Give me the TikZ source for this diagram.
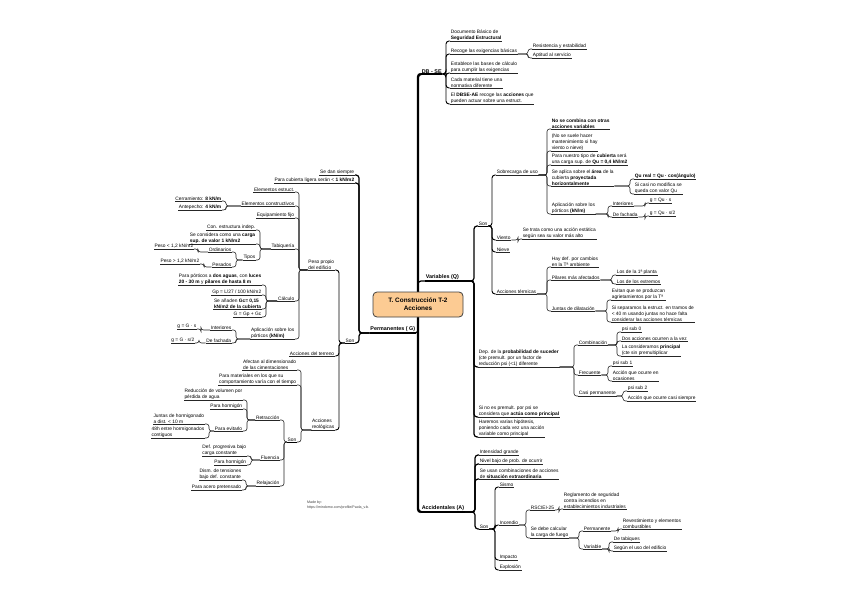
\documentclass[tikz,border=0pt]{standalone}
\usepackage{fontspec}
\setmainfont{Liberation Sans}
\definecolor{ctrfill}{HTML}{FCCB93}
\newcommand\lvone{\fontsize{5.4}{6.5}\selectfont\bfseries}
\newcommand\MRN[5][ul]{\node[rn] (#2) at (#3,#4) {#5}; \draw[#1] (#2.south west) -- (#2.south east);}
\newcommand\MLN[5][ul]{\node[ln] (#2) at (#3,#4) {#5}; \draw[#1] (#2.south east) -- (#2.south west);}
\newcommand\MRC[3][cn]{\draw[#1] (#2.south east) -| ([xshift=-4pt]#3.south west) -- (#3.south west);}
\newcommand\MLC[3][cn]{\draw[#1] (#2.south west) -| ([xshift=4pt]#3.south east) -- (#3.south east);}
\begin{document}
\begin{tikzpicture}[x=1pt,y=-1pt,
 every node/.style={font=\fontsize{4.85}{6}\selectfont, inner xsep=0.6pt, inner ysep=0.7pt, align=left, text=black},
 rn/.style={anchor=south west},
 ln/.style={anchor=south east},
 ul/.style={draw=black!85, line width=0.6pt},
 ulb/.style={draw=black, line width=0.9pt},
 ulc/.style={draw=black, line width=1.2pt},
 cn/.style={draw=black!85, line width=0.6pt, rounded corners=2.5pt},
 cnb/.style={draw=black, line width=0.9pt, rounded corners=3pt},
 cnc/.style={draw=black, line width=1.2pt, rounded corners=3pt},
 trunk/.style={draw=black, line width=2.4pt, rounded corners=3pt},
]
\useasboundingbox (0,0) rectangle (848,599);
\coordinate (cN) at (418,292);
\coordinate (cS) at (418,317);

% ---------------- DB - SE
\MRN[ulc]{dbse}{421}{74}{\lvone DB - SE}
\MRN{d1}{450}{41}{Documento Básico de\\\textbf{Seguridad Estructural}}
\MRN{d2}{450}{54}{Recoge las exigencias básicas}
\MRN{d21}{532}{49}{Resistencia y estabilidad}
\MRN{d22}{532}{58}{Aptitud al servicio}
\MRN{d3}{450}{73}{Establece las bases de cálculo\\para cumplir las exigencias}
\MRN{d4}{450}{88}{Cada material tiene una\\normativa diferente}
\MRN{d5}{450}{104}{El \textbf{DBSE-AE} recoge las \textbf{acciones} que\\pueden actuar sobre una estruct.}
\MRC[cnb]{dbse}{d1}\MRC[cnb]{dbse}{d2}\MRC[cnb]{dbse}{d3}\MRC[cnb]{dbse}{d4}\MRC[cnb]{dbse}{d5}
\MRC{d2}{d21}\MRC{d2}{d22}

% ---------------- Variables
\MRN[ulc]{var}{425}{281}{\lvone Variables (Q)}
\MRN[ulb]{vson}{478}{226}{Son}
\MRN{sob}{496}{175}{Sobrecarga de uso}
\MRN{s1}{551}{129}{\textbf{No se combina con otras}\\\textbf{acciones variables}}
\MRN{s2}{551}{151}{(No se suele hacer\\mantenimiento si hay\\viento o nieve)}
\MRN{s3}{551}{165}{Para nuestro tipo de \textbf{cubierta} será\\una carga sup. de \textbf{Qu = 0,4 kN/m2}}
\MRN{s4}{551}{186}{Se aplica sobre el \textbf{área} de la\\cubierta \textbf{proyectada}\\\textbf{horizontalmente}}
\MRN{s41}{634}{179}{\textbf{Qu real = Qu · cos(ángulo)}}
\MRN{s42}{634}{194}{Si casi no modifica se\\queda con valor Qu}
\MRN{s5}{551}{214}{Aplicación sobre los\\pórticos \textbf{(kN/m)}}
\MRN{s51}{612}{206}{Interiores}
\MRN{s511}{649}{203}{g = Qu · s}
\MRN{s52}{612}{217}{De fachada}
\MRN{s521}{649}{216}{g = Qu · s/2}
\MRN{vie}{496}{240}{Viento}
\MRN{vie1}{522}{239}{Se trata como una acción estática\\según sea su valor más alto}
\MRN{nie}{496}{252}{Nieve}
\MRN{ter}{496}{294}{Acciones térmicas}
\MRN{t1}{551}{267}{Hay def. por cambios\\en la Tª ambiente}
\MRN{t2}{551}{280}{Pilares más afectados}
\MRN{t21}{616}{275}{Los de la 1ª planta}
\MRN{t22}{616}{284}{Los de los extremos}
\MRN{t3}{551}{311}{Juntas de dilatación}
\MRN{t31}{611}{300}{Evitan que se produzcan\\agrietamientos por la Tª}
\MRN{t32}{611}{322}{Si separamos la estruct. en tramos de\\< 40 m usando juntas no hace falta\\considerar las acciones térmicas}
\MRN{dep}{478}{367}{Dep. de la \textbf{probabilidad de suceder}\\(cte premult. por un factor de\\reducción psi (<1) diferente}
\MRN{c1}{578}{345}{Combinación}
\MRN{c11}{621}{332}{psi sub 0}
\MRN{c12}{621}{341}{Dos acciones ocurren a la vez}
\MRN{c13}{621}{356}{La consideramos \textbf{principal}\\(cte sin premultiplicar}
\MRN{c2}{578}{375}{Frecuente}
\MRN{c21}{612}{366}{psi sub 1}
\MRN{c22}{612}{381}{Acción que ocurre en\\ocasiones}
\MRN{c3}{578}{396}{Casi permanente}
\MRN{c31}{627}{391}{psi sub 2}
\MRN{c32}{627}{401}{Acción que ocurre casi siempre}
\MRN{sino}{478}{417}{Si no es premult. por psi se\\considera que \textbf{actúa como principal}}
\MRN{har}{478}{437}{Haremos varias hipótesis,\\poniendo cada vez una acción\\variable como principal}
\MRC[cnc]{var}{vson}\MRC[cnc]{var}{dep}\MRC[cnc]{var}{sino}\MRC[cnc]{var}{har}
\MRC[cnb]{vson}{sob}\MRC[cnb]{vson}{vie}\MRC[cnb]{vson}{nie}\MRC[cnb]{vson}{ter}
\MRC{sob}{s1}\MRC{sob}{s2}\MRC{sob}{s3}\MRC{sob}{s4}\MRC{sob}{s5}
\MRC{s4}{s41}\MRC{s4}{s42}
\MRC{s5}{s51}\MRC{s5}{s52}\MRC{s51}{s511}\MRC{s52}{s521}
\MRC{vie}{vie1}
\MRC{ter}{t1}\MRC{ter}{t2}\MRC{ter}{t3}
\MRC{t2}{t21}\MRC{t2}{t22}\MRC{t3}{t31}\MRC{t3}{t32}
\MRC{dep}{c1}\MRC{dep}{c2}\MRC{dep}{c3}
\MRC{c1}{c11}\MRC{c1}{c12}\MRC{c1}{c13}
\MRC{c2}{c21}\MRC{c2}{c22}
\MRC{c3}{c31}\MRC{c3}{c32}

% ---------------- Accidentales
\MRN[ulc]{acc}{421}{512}{\lvone Accidentales (A)}
\MRN{a1}{479}{455}{Intensidad grande}
\MRN{a2}{479}{464}{Nivel bajo de prob. de ocurrir}
\MRN{a3}{479}{479}{Se usan combinaciones de acciones\\de \textbf{situación extraordinaria}}
\MRN[ulb]{ason}{479}{529}{Son}
\MRN{sis}{499}{487}{Sismo}
\MRN{inc}{499}{525}{Incendio}
\MRN{rsc}{530}{510}{RSCIEI-25}
\MRN{rsc1}{563}{509}{Reglamento de seguridad\\contra incendios en\\establecimientos industriales}
\MRN{calc}{530}{538}{Se debe calcular\\la carga de fuego}
\MRN{perm2}{583}{531}{Permanente}
\MRN{perm21}{622}{529}{Revestimiento y elementos\\combustibles}
\MRN{varb}{583}{549}{Variable}
\MRN{varb1}{613}{542}{De tabiques}
\MRN{varb2}{613}{551}{Según el uso del edificio}
\MRN{imp}{499}{560}{Impacto}
\MRN{expl}{499}{570}{Explosión}
\MRC[cnc]{acc}{a1}\MRC[cnc]{acc}{a2}\MRC[cnc]{acc}{a3}\MRC[cnc]{acc}{ason}
\MRC[cnb]{ason}{sis}\MRC[cnb]{ason}{inc}\MRC[cnb]{ason}{imp}\MRC[cnb]{ason}{expl}
\MRC{inc}{rsc}\MRC{inc}{calc}\MRC{rsc}{rsc1}
\MRC{calc}{perm2}\MRC{calc}{varb}\MRC{perm2}{perm21}
\MRC{varb}{varb1}\MRC{varb}{varb2}

% ---------------- Permanentes
\MLN[ulc]{perm}{416}{333}{\lvone Permanentes ( G)}
\MLN{p1}{355}{175}{Se dan siempre}
\MLN{p2}{355}{183}{Para cubierta ligera serán < \textbf{1 kN/m2}}
\MLN[ulb]{pson}{355}{343}{Son}
\MLN{pp}{335}{270}{Peso propio\\del edificio}
\MLN{ee}{295}{192}{Elementos estruct.}
\MLN{ec}{295}{206}{Elementos constructivos}
\MLN{ec1}{222}{201}{Cerramiento: \textbf{8 kN/m}}
\MLN{ec2}{222}{210}{Antepecho: \textbf{4 kN/m}}
\MLN{ef}{295}{218}{Equipamiento fijo}
\MLN{tab}{295}{249}{Tabiquería}
\MLN{tab1}{256}{230}{Con. estructura indep.}
\MLN{tab2}{256}{244}{Se considera como una \textbf{carga}\\\textbf{sup. de valor 1 kN/m2}}
\MLN{tipos}{256}{260}{Tipos}
\MLN{ord}{232}{252}{Ordinarios}
\MLN{ord1}{194}{249}{Peso < 1,2 kN/m2}
\MLN{pes}{232}{267}{Pesados}
\MLN{pes1}{200}{264}{Peso > 1,2 kN/m2}
\MLN{cal}{295}{301}{Cálculo}
\MLN{cal1}{262}{285}{Para pórticos a \textbf{dos aguas}, con \textbf{luces}\\\textbf{20 - 30 m} y \textbf{pilares de hasta 8 m}}
\MLN{cal2}{262}{295}{Gp = L/27 / 100 kN/m2}
\MLN{cal3}{262}{309}{Se añaden \textbf{Gc= 0,15}\\\textbf{kN/m2 de la cubierta}}
\MLN{cal4}{262}{317}{G = Gp + Gc}
\MLN{apl}{295}{339}{Aplicación sobre los\\pórticos \textbf{(kN/m)}}
\MLN{apl1}{232}{330}{Interiores}
\MLN{apl11}{197}{329}{g = G · s}
\MLN{apl2}{232}{343}{De fachada}
\MLN{apl21}{195}{343}{g = G · s/2}
\MLN{ater}{335}{356}{Acciones del terreno}
\MLN{reo}{335}{430}{Acciones\\reológicas}
\MLN{reo1}{297}{370}{Afectan al dimensionado\\de las cimentaciones}
\MLN{reo2}{297}{385}{Para materiales en los que su\\comportamiento varía con el tiempo}
\MLN[ulb]{rson}{297}{442}{Son}
\MLN{ret}{280}{420}{Retracción}
\MLN{ret1}{243}{400}{Reducción de volumen por\\pérdida de agua}
\MLN{ret2}{243}{409}{Para hormigón}
\MLN{ret3}{243}{431}{Para evitarlo}
\MLN{ret31}{205}{424}{Juntas de hormigonado\\a dist. < 10 m}
\MLN{ret32}{205}{438}{48h entre hormigonados\\contiguos}
\MLN{flu}{280}{460}{Fluencia}
\MLN{flu1}{247}{456}{Def. progresiva bajo\\carga constante}
\MLN{flu2}{247}{465}{Para hormigón}
\MLN{rel}{280}{486}{Relajación}
\MLN{rel1}{242}{480}{Dism. de tensiones\\bajo def. constante}
\MLN{rel2}{242}{490}{Para acero pretensado}
\MLC[cnc]{perm}{p1}\MLC[cnc]{perm}{p2}\MLC[cnc]{perm}{pson}
\MLC[cnb]{pson}{pp}\MLC[cnb]{pson}{ater}\MLC[cnb]{pson}{reo}
\MLC{pp}{ee}\MLC{pp}{ec}\MLC{pp}{ef}\MLC{pp}{tab}\MLC{pp}{cal}\MLC{pp}{apl}
\MLC{ec}{ec1}\MLC{ec}{ec2}
\MLC{tab}{tab1}\MLC{tab}{tab2}\MLC{tab}{tipos}
\MLC{tipos}{ord}\MLC{tipos}{pes}\MLC{ord}{ord1}\MLC{pes}{pes1}
\MLC{cal}{cal1}\MLC{cal}{cal2}\MLC{cal}{cal3}\MLC{cal}{cal4}
\MLC{apl}{apl1}\MLC{apl}{apl2}\MLC{apl1}{apl11}\MLC{apl2}{apl21}
\MLC{reo}{reo1}\MLC{reo}{reo2}\MLC{reo}{rson}
\MLC{rson}{ret}\MLC{rson}{flu}\MLC{rson}{rel}
\MLC{ret}{ret1}\MLC{ret}{ret2}\MLC{ret}{ret3}
\MLC{ret3}{ret31}\MLC{ret3}{ret32}
\MLC{flu}{flu1}\MLC{flu}{flu2}
\MLC{rel}{rel1}\MLC{rel}{rel2}

% ---------------- trunk and centre
\draw[trunk] (cN) |- (dbse.south west);
\draw[trunk] (cS) |- (acc.south west);
\draw[cnc] (cN) |- (var.south west);
\draw[cnc] (cS) |- (perm.south east);
\node[draw=black!75, fill=ctrfill, rounded corners=4pt, line width=0.8pt,
  minimum width=90pt, minimum height=25pt, align=center,
  font=\fontsize{6.4}{8.2}\selectfont\bfseries] (ctr) at (418,304.5) {T. Construcción T-2\\Acciones};

\node[anchor=north west, inner sep=0pt, font=\fontsize{3.6}{4.8}\selectfont, text=black!75] (made) at (307,501) {Made by:\\https://mindomo.com/profile/Paola\_v.b.};
\end{tikzpicture}
\end{document}
